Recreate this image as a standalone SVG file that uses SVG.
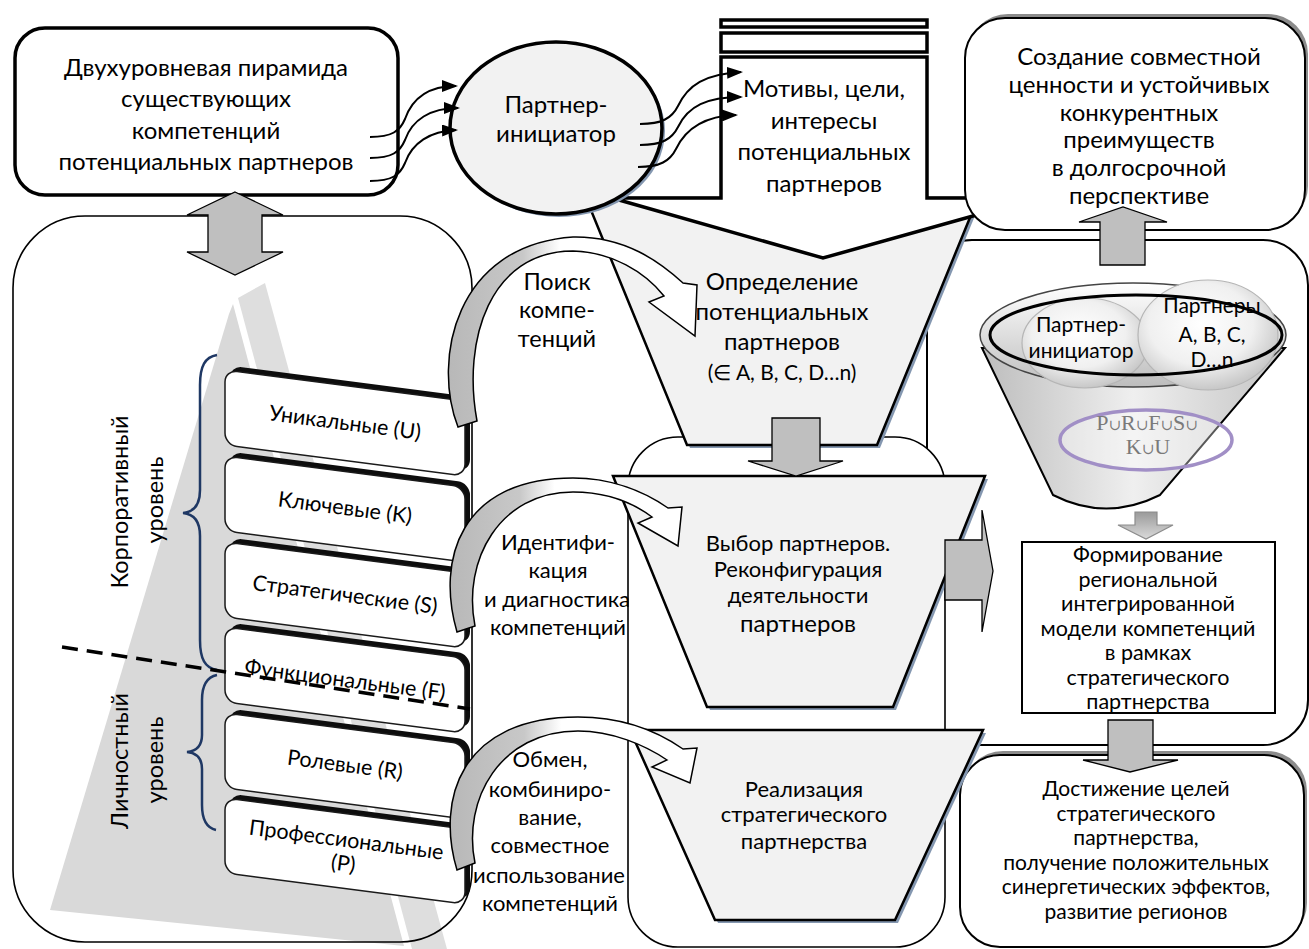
<svg xmlns="http://www.w3.org/2000/svg" width="1309" height="949" viewBox="0 0 1309 949">
<defs>
<style>
text{font-family:Lato,"Liberation Sans",Arial,sans-serif;text-anchor:middle;fill:#000}
.f24{font-size:24px}
.f23{font-size:23.5px}
.f22{font-size:22px}
.f21{font-size:21.5px}
.f20{font-size:21px}
.box{fill:#fff;stroke:#000;stroke-width:3.5}
.thin{fill:#fff;stroke:#000;stroke-width:1.6}
.fun{fill:#f2f2f2;stroke:#000;stroke-width:2.5;stroke-linejoin:miter}
.shd{fill:#8497b0}
.blk{fill:#bfbfbf;stroke:#000;stroke-width:1.3;stroke-linejoin:miter}
.wave{fill:none;stroke:#000;stroke-width:2;marker-end:url(#ah)}
.curv{fill:url(#cg);stroke:#000;stroke-width:1.5;stroke-linejoin:miter}
.brace{fill:none;stroke:#1f3864;stroke-width:2.5}
.comp{fill:#fff;stroke:#1a1a1a;stroke-width:1.5}
.bev{fill:#0d0d0d}
.ser{font-family:"Liberation Serif","DejaVu Serif",serif;fill:#7a7a7a;font-size:22px}
</style>
<marker id="ah" viewBox="0 0 16 12" refX="14" refY="6" markerWidth="16" markerHeight="12" markerUnits="userSpaceOnUse" orient="auto">
<path d="M0,0 L16,6 L0,12 Z" fill="#000"/>
</marker>
<linearGradient id="cg" x1="0" y1="0" x2="1" y2="0">
<stop offset="0" stop-color="#b8b8b8"/><stop offset="0.3" stop-color="#c8c8c8"/><stop offset="0.45" stop-color="#ffffff"/>
</linearGradient>
<radialGradient id="sph" cx="0.45" cy="0.4" r="0.62">
<stop offset="0" stop-color="#ffffff"/><stop offset="0.6" stop-color="#f0f0f0"/><stop offset="1" stop-color="#c4c4c4"/>
</radialGradient>
<linearGradient id="cone" x1="0" y1="0" x2="1" y2="0">
<stop offset="0" stop-color="#bdbdbd"/><stop offset="0.5" stop-color="#efefef"/><stop offset="1" stop-color="#c4c4c4"/>
</linearGradient>
<linearGradient id="rim" x1="0" y1="0" x2="0" y2="1">
<stop offset="0" stop-color="#ffffff"/><stop offset="1" stop-color="#bdbdbd"/>
</linearGradient>
<linearGradient id="darr" x1="0" y1="0" x2="0" y2="1">
<stop offset="0" stop-color="#9a9a9a"/><stop offset="1" stop-color="#dadada"/>
</linearGradient>
</defs>

<rect width="1309" height="949" fill="#fff"/>

<g id="left-panel">
<rect x="13" y="216" width="459" height="726" rx="72" fill="#fff"/>
<polygon points="229,314 233,304 404,946 50,910" fill="#d9d9d9"/>
<polygon points="238,298 265,283 447,949 412,949" fill="#dedede"/>
<rect x="13" y="216" width="459" height="726" rx="72" fill="none" stroke="#000" stroke-width="1.6"/>
</g>

<g id="competencies">
<g id="comp-U" transform="translate(225,370) skewY(7.4)"><rect class="bev" x="5" y="-5" width="240" height="75" rx="12"/><rect class="comp" x="0" y="0" width="240" height="75" rx="12"/></g>
<g id="comp-K" transform="translate(225,456) skewY(7.4)"><rect class="bev" x="5" y="-5" width="240" height="75" rx="12"/><rect class="comp" x="0" y="0" width="240" height="75" rx="12"/></g>
<g id="comp-S" transform="translate(225,542) skewY(7.4)"><rect class="bev" x="5" y="-5" width="240" height="75" rx="12"/><rect class="comp" x="0" y="0" width="240" height="75" rx="12"/></g>
<g id="comp-F" transform="translate(225,627) skewY(7.4)"><rect class="bev" x="5" y="-5" width="240" height="75" rx="12"/><rect class="comp" x="0" y="0" width="240" height="75" rx="12"/></g>
<g id="comp-R" transform="translate(225,713) skewY(7.4)"><rect class="bev" x="5" y="-5" width="240" height="75" rx="12"/><rect class="comp" x="0" y="0" width="240" height="75" rx="12"/></g>
<g id="comp-P" transform="translate(225,798) skewY(7.4)"><rect class="bev" x="5" y="-5" width="240" height="75" rx="12"/><rect class="comp" x="0" y="0" width="240" height="75" rx="12"/></g>
<text class="f21" transform="translate(345,423) rotate(7.4)" y="7">Уникальные (U)</text>
<text class="f21" transform="translate(345,508) rotate(7.4)" y="7">Ключевые (K)</text>
<text class="f21" transform="translate(345,595) rotate(7.4)" y="7">Стратегические (S)</text>
<text class="f21" transform="translate(345,680) rotate(7.4)" y="7">Функциональные (F)</text>
<text class="f21" transform="translate(345,765) rotate(7.4)" y="7">Ролевые (R)</text>
<text class="f21" transform="translate(345,850) rotate(7.4)"><tspan x="0" y="-3">Профессиональные</tspan><tspan x="0" y="21">(P)</tspan></text>
</g>

<g id="levels">
<path class="brace" d="M217,355 C205,357 200,366 200,385 L200,490 C200,505 194,512 183,513 C194,514 200,521 200,536 L200,640 C200,659 205,668 217,670"/>
<path class="brace" d="M217,675 C207,677 202,685 202,700 L202,735 C202,746 197,751 187,752 C197,753 202,758 202,769 L202,805 C202,820 207,828 216,830"/>
<text class="f23" transform="translate(128,502) rotate(-90)">Корпоративный</text>
<text class="f23" transform="translate(163,500) rotate(-90)">уровень</text>
<text class="f23" transform="translate(128,761) rotate(-90)">Личностный</text>
<text class="f23" transform="translate(163,760) rotate(-90)">уровень</text>
<line x1="62" y1="647" x2="470" y2="709" stroke="#000" stroke-width="3.5" stroke-dasharray="16 9"/>
</g>

<g id="right-panel">
<rect x="927" y="240" width="381" height="505" rx="45" fill="#fff" stroke="#000" stroke-width="2"/>
</g>

<g id="middle-panel">
<rect x="628" y="437" width="317" height="510" rx="50" class="thin"/>
</g>

<g id="funnel-1">
<polygon class="shd" points="589,201 981,201 880,448 690,448"/>
<polygon class="fun" points="586,198 978,198 877,445 687,445"/>
<text class="f24" x="782" y="290">Определение</text>
<text class="f24" x="782" y="320">потенциальных</text>
<text class="f24" x="782" y="350">партнеров</text>
<text class="f20" x="782" y="380">(∈ A, B, C, D…n)</text>
</g>

<g id="motives">
<rect x="721" y="20" width="206" height="7" class="box" stroke-width="3"/>
<rect x="721" y="33" width="206" height="19" class="box"/>
<polygon class="box" points="721,57 927,57 927,198 1037,198 823,258 612,198 721,198"/>
<text class="f24" x="824" y="97">Мотивы, цели,</text>
<text class="f24" x="824" y="129">интересы</text>
<text class="f24" x="824" y="160">потенциальных</text>
<text class="f24" x="824" y="192">партнеров</text>
</g>

<g id="initiator">
<ellipse cx="559" cy="131" rx="106" ry="86" fill="#8497b0"/>
<ellipse cx="556" cy="128" rx="106" ry="86" fill="#f2f2f2" stroke="#000" stroke-width="3.5"/>
<text class="f24" x="556" y="113">Партнер-</text>
<text class="f24" x="556" y="142">инициатор</text>
</g>

<g id="pyramid-box">
<rect x="15" y="28" width="383" height="167" rx="30" class="box"/>
<text class="f24" x="206" y="76">Двухуровневая пирамида</text>
<text class="f24" x="206" y="107">существующих</text>
<text class="f24" x="206" y="139">компетенций</text>
<text class="f24" x="206" y="170">потенциальных партнеров</text>
</g>

<g id="value-box">
<rect x="968" y="14" width="340" height="212" rx="40" fill="#8c8c8c"/>
<rect x="965" y="18" width="340" height="212" rx="40" fill="#fff" stroke="#000" stroke-width="2"/>
<text class="f24" x="1139" y="65">Создание совместной</text>
<text class="f24" x="1139" y="93">ценности и устойчивых</text>
<text class="f24" x="1139" y="120.5">конкурентных</text>
<text class="f24" x="1139" y="148">преимуществ</text>
<text class="f24" x="1139" y="176">в долгосрочной</text>
<text class="f24" x="1139" y="203.5">перспективе</text>
</g>

<g id="goals-box">
<rect x="963" y="751" width="344" height="192" rx="40" fill="#8c8c8c"/>
<rect x="960" y="755" width="344" height="192" rx="40" fill="#fff" stroke="#000" stroke-width="2"/>
<text class="f20" x="1136" y="796">Достижение целей</text>
<text class="f20" x="1136" y="820.5">стратегического</text>
<text class="f20" x="1136" y="845">партнерства,</text>
<text class="f20" x="1136" y="869.5">получение положительных</text>
<text class="f20" x="1136" y="894">синергетических эффектов,</text>
<text class="f20" x="1136" y="918.5">развитие регионов</text>
</g>

<g id="funnel-2">
<polygon class="shd" points="616,479 988,479 896,710 710,710"/>
<polygon class="fun" points="613,476 985,476 893,707 707,707"/>
<text class="f22" x="798" y="551">Выбор партнеров.</text>
<text class="f22" x="798" y="577">Реконфигурация</text>
<text class="f22" x="798" y="603">деятельности</text>
<text class="f24" x="798" y="632">партнеров</text>
</g>

<g id="funnel-3">
<polygon class="shd" points="633,733 986,733 898,923 718,923"/>
<polygon class="fun" points="630,730 983,730 895,920 715,920"/>
<text class="f22" x="804" y="797">Реализация</text>
<text class="f22" x="804" y="822">стратегического</text>
<text class="f22" x="804" y="849">партнерства</text>
</g>

<g id="integration-funnel">
<path d="M982,348 L1053,495 Q1106,522 1160,495 L1285,348 Z" fill="url(#cone)" stroke="#000" stroke-width="2"/>
<ellipse cx="1133" cy="335" rx="153" ry="52" fill="url(#rim)" stroke="#444" stroke-width="1.5"/>
<ellipse cx="1085" cy="343" rx="63" ry="45" fill="url(#sph)" stroke="#b5b5b5" stroke-width="1.2"/>
<ellipse cx="1208" cy="335" rx="70" ry="55" fill="url(#sph)" stroke="#b5b5b5" stroke-width="1.2"/>
<ellipse cx="1136" cy="335" rx="146" ry="40" fill="none" stroke="#000" stroke-width="3"/>
<ellipse cx="1146" cy="440" rx="86" ry="30" fill="#ffffff" fill-opacity="0.35" stroke="#a18fc6" stroke-width="3.5"/>
<text class="f20" x="1081" y="332">Партнер-</text>
<text class="f20" x="1081" y="358">инициатор</text>
<text class="f20" x="1212" y="313">Партнеры</text>
<text class="f20" x="1212" y="342">A, B, C,</text>
<text class="f20" x="1212" y="367">D…n</text>
<text class="ser" x="1147" y="430">P<tspan font-size="15">∪</tspan>R<tspan font-size="15">∪</tspan>F<tspan font-size="15">∪</tspan>S<tspan font-size="15">∪</tspan></text>
<text class="ser" x="1148" y="454">K<tspan font-size="15">∪</tspan>U</text>
</g>

<g id="model-box">
<rect x="1022" y="542" width="253" height="171" fill="#fff" stroke="#000" stroke-width="2"/>
<text class="f21" x="1148" y="562">Формирование</text>
<text class="f21" x="1148" y="586.5">региональной</text>
<text class="f21" x="1148" y="611">интегрированной</text>
<text class="f21" x="1148" y="635.5">модели компетенций</text>
<text class="f21" x="1148" y="660">в рамках</text>
<text class="f21" x="1148" y="684.5">стратегического</text>
<text class="f21" x="1148" y="709">партнерства</text>
</g>

<g id="connectors">
<path class="blk" d="M235,192 L283,215 L262,215 L262,252 L283,252 L235,275 L187,252 L208,252 L208,215 L187,215 Z"/>
<path class="blk" d="M772,418 L820,418 L820,461 L843,461 L796,476 L748,461 L772,461 Z"/>
<path class="blk" d="M945,540 L982,540 L982,510 L993,571 L982,632 L982,600 L945,600 Z"/>
<path class="blk" d="M1100,265 L1100,222 L1079,222 L1123,207 L1167,222 L1145,222 L1145,265 Z"/>
<path class="blk" d="M1108,720 L1153,720 L1153,760 L1178,760 L1130,772 L1083,760 L1108,760 Z"/>
<path d="M1135,512 L1157,512 L1157,525 L1173,525 L1146,539 L1118,525 L1135,525 Z" fill="url(#darr)" stroke="#8c8c8c" stroke-width="1.2"/>
<path class="wave" d="M370,137 C392,137 400,131 405,119 C412,99 428,86 456,86"/>
<path class="wave" d="M370,158 C392,158 400,152 405,140 C412,120 430,108 458,108"/>
<path class="wave" d="M370,181 C392,181 400,175 405,163 C412,143 430,131 456,130"/>
<path class="wave" d="M640,124 C662,124 672,118 678,106 C688,85 705,74 741,72"/>
<path class="wave" d="M640,145 C662,145 672,139 678,127 C688,106 707,97 741,97"/>
<path class="wave" d="M638,167 C660,167 670,161 676,149 C686,128 705,116 736,115"/>
<path class="curv" d="M458,427 C432,360 455,245 573,237 C625,236 660,262 683,283 L697,285 L695,336 L649,302 L664,296 C645,272 612,252 573,251 C490,251 462,340 477,421 Z"/>
<path class="curv" d="M457,632 C436,560 460,478 573,478 C612,478 645,492 668,508 L682,507 L678,546 L638,523 L652,517 C632,502 605,492 573,492 C500,492 462,560 475,626 Z"/>
<path class="curv" d="M457,870 C436,800 460,717 578,717 C625,717 660,733 683,749 L697,748 L690,783 L652,767 L667,760 C645,745 612,731 578,731 C500,731 462,800 475,863 Z"/>
</g>

<g id="arrow-labels">
<text class="f23" x="557" y="290">Поиск</text>
<text class="f23" x="557" y="318">компе-</text>
<text class="f23" x="557" y="347">тенций</text>
<text class="f22" x="558" y="550">Идентифи-</text>
<text class="f22" x="558" y="578">кация</text>
<text class="f22" x="557" y="607">и диагностика</text>
<text class="f22" x="558" y="635">компетенций</text>
<text class="f22" x="550" y="767">Обмен,</text>
<text class="f22" x="550" y="797">комбиниро-</text>
<text class="f22" x="550" y="825">вание,</text>
<text class="f22" x="550" y="853">совместное</text>
<text class="f22" x="549" y="883">использование</text>
<text class="f22" x="550" y="911">компетенций</text>
</g>
</svg>
